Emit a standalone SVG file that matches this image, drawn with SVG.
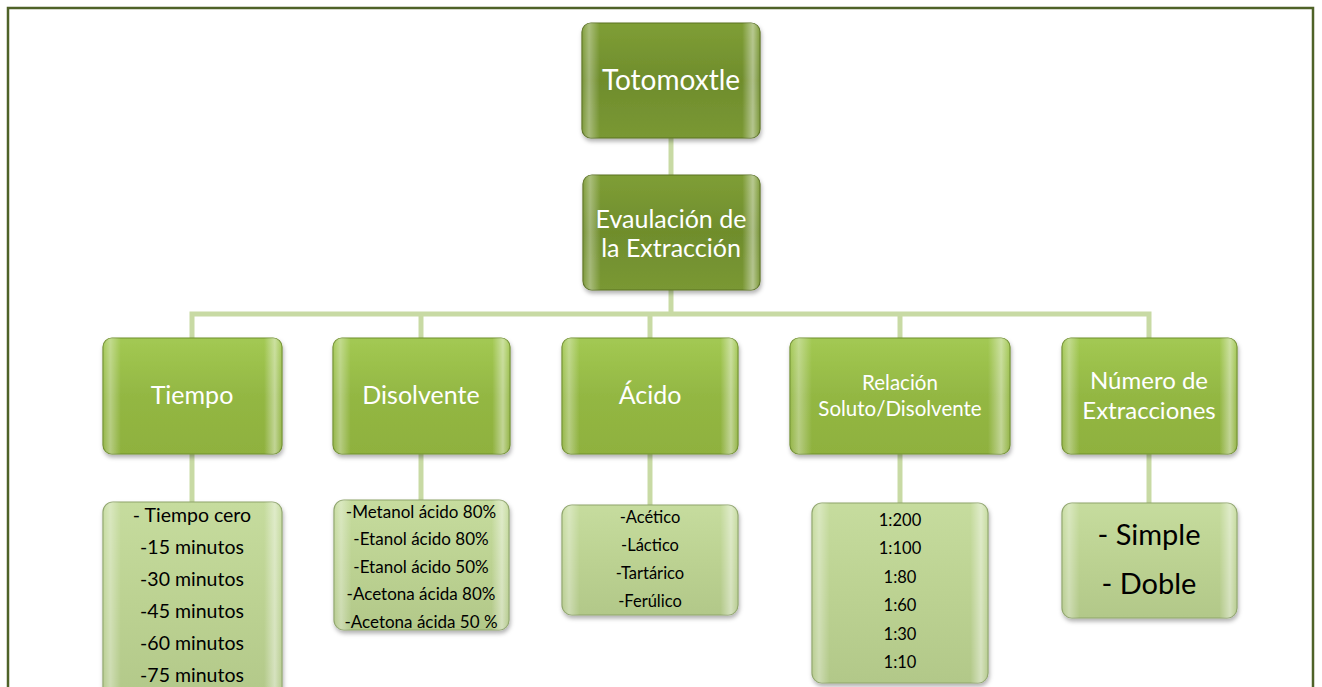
<svg xmlns="http://www.w3.org/2000/svg" width="1322" height="687" viewBox="0 0 1322 687">
<defs>
<linearGradient id="gTop" x1="0" y1="0" x2="0" y2="1"><stop offset="0" stop-color="#7f9e36"/><stop offset="0.5" stop-color="#6f8d2c"/><stop offset="1" stop-color="#7a9834"/></linearGradient>
<linearGradient id="gMid" x1="0" y1="0" x2="0" y2="1"><stop offset="0" stop-color="#a3c953"/><stop offset="0.5" stop-color="#93b743"/><stop offset="1" stop-color="#8fb13e"/></linearGradient>
<linearGradient id="gLow" x1="0" y1="0" x2="0" y2="1"><stop offset="0" stop-color="#c6dc9e"/><stop offset="0.5" stop-color="#bcd292"/><stop offset="1" stop-color="#b2c889"/></linearGradient>
<linearGradient id="gEdge" x1="0" y1="0" x2="1" y2="0"><stop offset="0" stop-color="#ffffff" stop-opacity="0.05"/><stop offset="0.04" stop-color="#ffffff" stop-opacity="0.35"/><stop offset="0.1" stop-color="#ffffff" stop-opacity="0.0"/><stop offset="0.9" stop-color="#ffffff" stop-opacity="0.0"/><stop offset="0.96" stop-color="#ffffff" stop-opacity="0.45"/><stop offset="1" stop-color="#ffffff" stop-opacity="0.05"/></linearGradient>
<filter id="sh" x="-10%" y="-10%" width="120%" height="130%"><feDropShadow dx="1" dy="3" stdDeviation="2" flood-color="#000" flood-opacity="0.3"/></filter>
</defs>
<style>
.top{fill:url(#gTop);stroke:#5a7222;stroke-width:1.2;filter:url(#sh)}
.mid{fill:url(#gMid);stroke:#6f8f2c;stroke-width:1.2;filter:url(#sh)}
.low{fill:url(#gLow);stroke:#8ea46a;stroke-width:1.2;filter:url(#sh)}
.edge{fill:url(#gEdge)}
.conn{stroke:#c8daa4;stroke-width:5;fill:none}
.tw{font-family:Lato,"Open Sans",sans-serif;fill:#ffffff;text-anchor:middle}
.tb{font-family:Lato,"Open Sans",sans-serif;fill:#000000;text-anchor:middle}
</style>
<path d="M8 687 V8 H1313 V687" fill="none" stroke="#4f6228" stroke-width="2.5"/>
<g id="connectors">
<line class="conn" x1="671" y1="138" x2="671" y2="175"/>
<line class="conn" x1="671" y1="290" x2="671" y2="314"/>
<polyline class="conn" points="192,338 192,314 1149,314 1149,338"/>
<line class="conn" x1="421" y1="314" x2="421" y2="338"/>
<line class="conn" x1="650" y1="314" x2="650" y2="338"/>
<line class="conn" x1="900" y1="314" x2="900" y2="338"/>
<line class="conn" x1="192" y1="454" x2="192" y2="502"/>
<line class="conn" x1="421" y1="454" x2="421" y2="500"/>
<line class="conn" x1="650" y1="454" x2="650" y2="505"/>
<line class="conn" x1="900" y1="454" x2="900" y2="503"/>
<line class="conn" x1="1149" y1="454" x2="1149" y2="503"/>
</g>
<g id="totomoxtle">
<rect class="top" x="582" y="23" width="178" height="115" rx="9"/>
<rect class="edge" x="582" y="23" width="178" height="115" rx="9"/>
<text class="tw" x="671" y="90" font-size="28">Totomoxtle</text>
</g>
<g id="evaluacion">
<rect class="top" x="583" y="175" width="177" height="115" rx="9"/>
<rect class="edge" x="583" y="175" width="177" height="115" rx="9"/>
<text class="tw" x="671" y="228" font-size="25">Evaulación de</text>
<text class="tw" x="671" y="257" font-size="25">la Extracción</text>
</g>
<g id="tiempo">
<rect class="mid" x="103" y="338" width="179" height="116" rx="9"/>
<rect class="edge" x="103" y="338" width="179" height="116" rx="9"/>
<text class="tw" x="192" y="404" font-size="25">Tiempo</text>
</g>
<g id="disolvente">
<rect class="mid" x="333" y="338" width="177" height="116" rx="9"/>
<rect class="edge" x="333" y="338" width="177" height="116" rx="9"/>
<text class="tw" x="421" y="404" font-size="25">Disolvente</text>
</g>
<g id="acido">
<rect class="mid" x="562" y="338" width="176" height="116" rx="9"/>
<rect class="edge" x="562" y="338" width="176" height="116" rx="9"/>
<text class="tw" x="650" y="404" font-size="25">Ácido</text>
</g>
<g id="relacion">
<rect class="mid" x="790" y="338" width="220" height="116" rx="9"/>
<rect class="edge" x="790" y="338" width="220" height="116" rx="9"/>
<text class="tw" x="900" y="390" font-size="20.5">Relación</text>
<text class="tw" x="900" y="416" font-size="20.5">Soluto/Disolvente</text>
</g>
<g id="numero">
<rect class="mid" x="1062" y="338" width="175" height="116" rx="9"/>
<rect class="edge" x="1062" y="338" width="175" height="116" rx="9"/>
<text class="tw" x="1149" y="389" font-size="24">Número de</text>
<text class="tw" x="1149" y="419" font-size="24">Extracciones</text>
</g>
<g id="tiempo-list">
<rect class="low" x="103" y="502" width="179" height="200" rx="10"/>
<rect class="edge" x="103" y="502" width="179" height="200" rx="10"/>
<g class="tb" font-size="19.5">
<text x="192" y="522">- Tiempo cero</text>
<text x="192" y="554">-15 minutos</text>
<text x="192" y="586">-30 minutos</text>
<text x="192" y="618">-45 minutos</text>
<text x="192" y="650">-60 minutos</text>
<text x="192" y="682">-75 minutos</text>
</g>
</g>
<g id="disolvente-list">
<rect class="low" x="334" y="500" width="175" height="130" rx="10"/>
<rect class="edge" x="334" y="500" width="175" height="130" rx="10"/>
<g class="tb" font-size="17">
<text x="421" y="518">-Metanol ácido 80%</text>
<text x="421" y="545">-Etanol ácido 80%</text>
<text x="421" y="573">-Etanol ácido 50%</text>
<text x="421" y="600">-Acetona ácida 80%</text>
<text x="421" y="628">-Acetona ácida 50 %</text>
</g>
</g>
<g id="acido-list">
<rect class="low" x="562" y="505" width="176" height="110" rx="10"/>
<rect class="edge" x="562" y="505" width="176" height="110" rx="10"/>
<g class="tb" font-size="16.5">
<text x="650" y="523">-Acético</text>
<text x="650" y="551">-Láctico</text>
<text x="650" y="579">-Tartárico</text>
<text x="650" y="607">-Ferúlico</text>
</g>
</g>
<g id="relacion-list">
<rect class="low" x="812" y="503" width="176" height="180" rx="10"/>
<rect class="edge" x="812" y="503" width="176" height="180" rx="10"/>
<g class="tb" font-size="16.5">
<text x="900" y="526">1:200</text>
<text x="900" y="554">1:100</text>
<text x="900" y="583">1:80</text>
<text x="900" y="611">1:60</text>
<text x="900" y="640">1:30</text>
<text x="900" y="668">1:10</text>
</g>
</g>
<g id="numero-list">
<rect class="low" x="1062" y="503" width="175" height="115" rx="10"/>
<rect class="edge" x="1062" y="503" width="175" height="115" rx="10"/>
<g class="tb" font-size="29">
<text x="1149" y="545">- Simple</text>
<text x="1149" y="594">- Doble</text>
</g>
</g>
</svg>
